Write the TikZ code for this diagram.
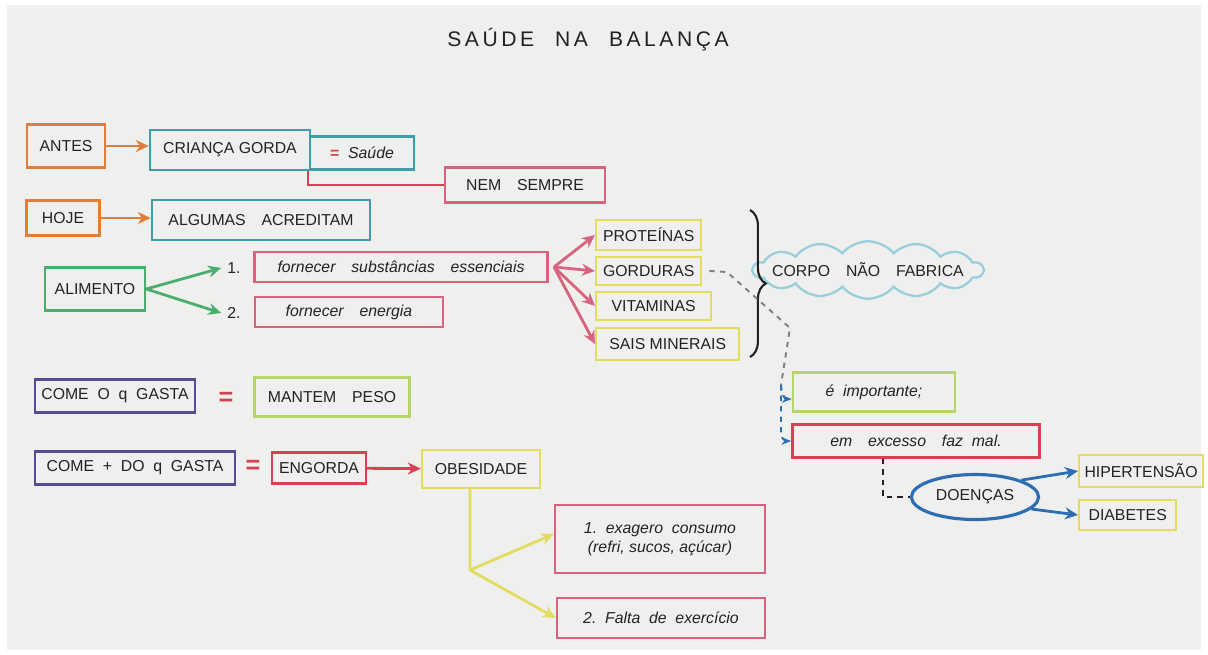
\documentclass[tikz,border=0pt]{standalone}
\usepackage{fontspec}
\setmainfont{Liberation Sans}
\usetikzlibrary{positioning, arrows.meta, shapes.geometric, shapes.symbols, decorations.pathreplacing}
\definecolor{paper}{HTML}{EFF0EE}
\definecolor{orng}{HTML}{E07E3C}
\definecolor{tealc}{HTML}{3E9EA8}
\definecolor{pinkc}{HTML}{D8637E}
\definecolor{redc}{HTML}{D8404F}
\definecolor{greenc}{HTML}{4BAE6E}
\definecolor{yelc}{HTML}{E2DD62}
\definecolor{limec}{HTML}{B5D46C}
\definecolor{purc}{HTML}{554C93}
\definecolor{bluec}{HTML}{2C6DB3}
\definecolor{cloudc}{HTML}{98CEDD}
\definecolor{ink}{HTML}{222222}

\begin{document}
\begin{tikzpicture}[
    x=0.02cm, y=-0.02cm,
    box/.style={draw, line width=1.4pt, inner sep=3pt, align=center, text=ink, font=\small},
    hand/.style={box, font=\small\itshape},
    eqsign/.style={text=redc, font=\Large\bfseries},
    arr/.style={-{Stealth[length=2.6mm, width=2.4mm]}, line width=1.6pt},
    every node/.style={text=ink}
]
\useasboundingbox (0,0) rectangle (1208,654);
\fill[paper] (7,5) rectangle (1201,650);

% Title
\node[font=\large] (title) at (588,40) {S\,A\,Ú\,D\,E\quad N\,A\quad B\,A\,L\,A\,N\,Ç\,A};

% Antes / Hoje
\node[box, draw=orng, minimum width=1.56cm, minimum height=0.86cm] (antes) at (66,146) {ANTES};
\node[box, draw=tealc, minimum width=3.2cm, minimum height=0.8cm] (crianca) at (230,150) {CRIANÇA GORDA};
\node[box, draw=tealc, minimum width=2.08cm, minimum height=0.66cm] (saude) at (362,153) {\textcolor{redc}{\textbf{=}}\ \ \textit{Saúde}};
\node[box, draw=pinkc, minimum width=3.2cm, minimum height=0.7cm] (nem) at (525,185) {NEM\quad SEMPRE};
\node[box, draw=orng, minimum width=1.46cm, minimum height=0.7cm] (hoje) at (63,218) {HOJE};
\node[box, draw=tealc, minimum width=4.36cm, minimum height=0.8cm] (algumas) at (261,220) {ALGUMAS\quad ACREDITAM};

% Alimento
\node[box, draw=greenc, minimum width=2.0cm, minimum height=0.86cm] (alimento) at (95,289) {ALIMENTO};
\node[font=\small] (n1) at (234,268) {1.};
\node[hand, draw=pinkc, minimum width=5.86cm, minimum height=0.6cm] (subst) at (401,267) {fornecer\quad substâncias\quad essenciais};
\node[font=\small] (n2) at (234,313) {2.};
\node[hand, draw=pinkc, minimum width=3.76cm, minimum height=0.6cm] (energia) at (349,312) {fornecer\quad energia};

% Nutrientes
\node[box, draw=yelc, anchor=west, minimum width=2.1cm, minimum height=0.6cm] (prot) at (595,235) {PROTEÍNAS};
\node[box, draw=yelc, anchor=west, minimum width=2.1cm, minimum height=0.56cm] (gord) at (595,271) {GORDURAS};
\node[box, draw=yelc, anchor=west, minimum width=2.3cm, minimum height=0.56cm] (vit) at (595,306) {VITAMINAS};
\node[box, draw=yelc, anchor=west, minimum width=2.86cm, minimum height=0.64cm] (sais) at (595,344) {SAIS MINERAIS};
\node[cloud, draw=cloudc, line width=1.3pt, cloud puffs=14, cloud puff arc=100, cloud ignores aspect, inner sep=0pt, minimum width=4.6cm, minimum height=1.15cm] (corpo) at (868,270) {};
\node[font=\small] (corpotxt) at (corpo) {CORPO\quad NÃO\quad FABRICA};

% Excesso
\node[hand, draw=limec, minimum width=3.24cm, minimum height=0.78cm] (imp) at (874,392) {é\ \ importante;};
\node[hand, draw=redc, minimum width=4.94cm, minimum height=0.66cm] (excesso) at (916,441) {em\quad excesso\quad faz\ \ mal.};
\node[ellipse, draw=bluec, line width=1.8pt, minimum width=2.2cm, minimum height=0.9cm, font=\small] (doencas) at (975,497) {DOENÇAS};
\node[box, draw=yelc, anchor=west, minimum width=2.44cm, minimum height=0.64cm] (hiper) at (1078,471) {HIPERTENSÃO};
\node[box, draw=yelc, anchor=west, minimum width=1.94cm, minimum height=0.6cm] (diab) at (1078,515) {DIABETES};

% Come / gasta
\node[box, draw=purc, minimum width=3.2cm, minimum height=0.66cm] (come1) at (115,396) {COME\ \ O\ \ q\ \ GASTA};
\node[eqsign] (eq1) at (226,399) {=};
\node[box, draw=limec, minimum width=3.1cm, minimum height=0.78cm] (mantem) at (332,397) {MANTEM\quad PESO};
\node[box, draw=purc, minimum width=4.0cm, minimum height=0.66cm] (come2) at (135,468) {COME\ \ +\ \ DO\ \ q\ \ GASTA};
\node[eqsign] (eq2) at (253,467) {=};
\node[box, draw=redc, minimum width=1.88cm, minimum height=0.62cm] (engorda) at (319,468) {ENGORDA};
\node[box, draw=yelc, minimum width=2.36cm, minimum height=0.76cm] (obes) at (481,469) {OBESIDADE};
\node[hand, draw=pinkc, minimum width=4.2cm, minimum height=1.36cm] (causa1) at (660,539) {1.\ \ exagero\ \ consumo\\(refri, sucos, açúcar)};
\node[hand, draw=pinkc, minimum width=4.16cm, minimum height=0.8cm] (causa2) at (661,618) {2.\ \ Falta\ \ de\ \ exercício};

% Arrows
\draw[arr, orng] (antes.east) -- (antes.east -| crianca.west);
\draw[arr, orng] (hoje.east) -- (hoje.east -| algumas.west);
\draw[redc, line width=1.3pt] ([xshift=-0.06cm]crianca.south east) |- (nem.west);
\draw[arr, greenc] (alimento.east) -- (n1.west);
\draw[arr, greenc] (alimento.east) -- (n2.west);
\foreach \t in {prot, gord, vit, sais}
  \draw[arr, pinkc] ([xshift=3pt]subst.east) -- (\t.west);
\draw[decorate, decoration={brace, amplitude=9pt}, line width=1.2pt, ink] (750,210) -- (750,357);
\draw[arr, redc] (engorda) -- (obes);
\draw[yelc, line width=1.6pt] ([xshift=-0.22cm]obes.south) -- (470,570) coordinate (ysplit);
\draw[arr, yelc] (ysplit) -- ([yshift=0.1cm]causa1.west);
\draw[arr, yelc] (ysplit) -- (causa2.west);

% dashed link to excesso
\coordinate (dsplit) at (781,385);
\draw[gray, dashed, line width=1.1pt] ([xshift=4pt]gord.east) -- (727,272) -- (790,328) -- (dsplit);
\draw[-{Stealth[length=2mm]}, bluec, dashed, line width=1.1pt] (dsplit) to[out=-90, in=180] ([yshift=-0.14cm]imp.west);
\draw[-{Stealth[length=2mm]}, bluec, dashed, line width=1.1pt, rounded corners=4pt] (dsplit) |- (excesso.west);
\draw[ink, dashed, line width=1pt] ([xshift=-0.66cm]excesso.south) |- (doencas.west);
\draw[arr, bluec] (doencas.20) -- (hiper.west);
\draw[arr, bluec] (doencas.-12) -- (diab.west);
\end{tikzpicture}
\end{document}
